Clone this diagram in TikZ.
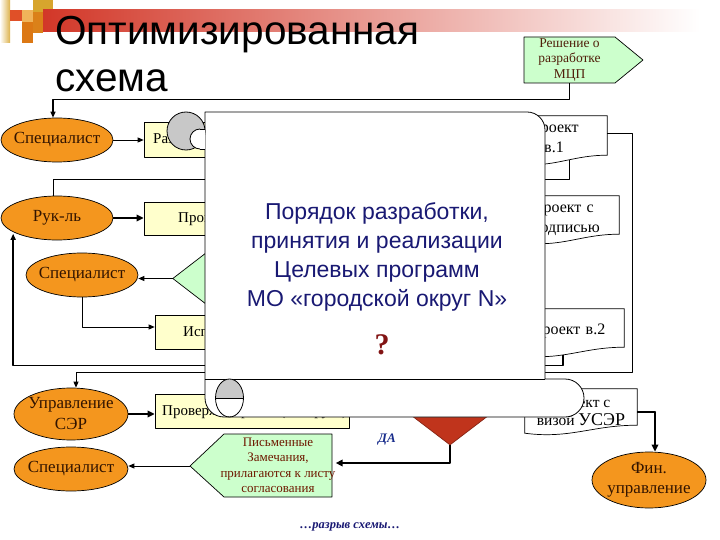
\documentclass[tikz,border=0pt]{standalone}
\usepackage{fontspec}
\setmainfont{Liberation Serif}
\newfontfamily\arialf{Liberation Sans}
\usetikzlibrary{shapes.geometric,arrows.meta}
\pgfdeclarelayer{paper}
\pgfdeclarelayer{docs}
\pgfsetlayers{paper,docs,main}
\definecolor{orng}{RGB}{244,150,30}
\definecolor{yel}{RGB}{255,255,204}
\definecolor{grn}{RGB}{204,255,204}
\definecolor{redd}{RGB}{192,52,28}
\definecolor{ellt}{RGB}{50,20,0}
\definecolor{notet}{RGB}{110,25,0}
\definecolor{dect}{RGB}{80,30,10}
\definecolor{navy}{RGB}{25,25,115}
\definecolor{qcol}{RGB}{130,20,20}
\definecolor{dablue}{RGB}{25,45,140}
\definecolor{barred}{RGB}{210,55,40}
\definecolor{curl}{RGB}{200,200,200}
\definecolor{gold}{RGB}{215,165,45}
\definecolor{lorng}{RGB}{240,180,90}
\definecolor{dorng}{RGB}{220,120,20}
\definecolor{rorng}{RGB}{224,80,40}
\newcommand\docwave[2]{%
  \path[fill=white,draw=black,line width=0.7pt] (#1.north west) -- (#1.north east) -- (#1.south east)
    .. controls ([xshift=-#2pt]#1.south east) and ([xshift=#2pt,yshift=-14pt]#1.south west) .. ([yshift=-8pt]#1.south west) -- cycle;}
\begin{document}
\begin{tikzpicture}[x=1pt,y=-1pt,line join=round,
  ell/.style={ellipse,draw=black,line width=0.7pt,fill=orng,inner sep=0pt},
  elltxt/.style={inner sep=0pt,text=ellt,align=center,font=\fontsize{17}{20}\selectfont},
  ybox/.style={rectangle,draw=black,line width=0.7pt,fill=yel,inner sep=0pt},
  btxt/.style={font=\fontsize{15}{18}\selectfont,inner sep=0pt,anchor=west},
  doctxt/.style={inner sep=0pt,align=left,font=\fontsize{16}{20}\selectfont},
  frame/.style={inner sep=0pt,draw=none},
  arr/.style={-{Triangle[length=6pt,width=5pt]},line width=0.8pt},
  tarr/.style={-{Triangle[length=7pt,width=6.5pt]},line width=1.8pt},
  ln/.style={line width=0.8pt}]
\begin{pgfonlayer}{paper}
\fill[white] (0,0) rectangle (720,540);
\end{pgfonlayer}
\useasboundingbox (0,0) rectangle (720,540);

% decoration
\shade[left color=white, right color=gold!85!white] (0,0) rectangle (10,43);
\fill[rorng] (10,10) rectangle (22,21);
\fill[lorng] (22,10) rectangle (33,22);
\fill[gold] (33,0) rectangle (53,12);
\fill[dorng!80!gold] (33,12) rectangle (43,33);
\fill[dorng] (22,22) rectangle (33,43);
\shade[left color=barred, middle color=barred!35!white, right color=white] (43,10) rectangle (700,32);

% title
\node[anchor=base west,inner sep=0pt,font=\arialf\fontsize{40.5}{47}\selectfont] (title1) at (55,45) {Оптимизированная};
\node[anchor=base west,inner sep=0pt,font=\arialf\fontsize{40.5}{47}\selectfont] (title2) at (55,92) {схема};

% decision pentagon
\path[draw=black,fill=grn,line width=0.7pt] (524,37) -- (615,37) -- (643,60) -- (615,83) -- (524,83) -- cycle;
\node[frame,minimum width=91pt,minimum height=46pt,align=center,text=dect,font=\fontsize{13.5}{15.5}\selectfont] (dec) at (569.5,60) {Решение о\\разработке\\МЦП};

% ellipses
\node[ell,minimum width=112pt,minimum height=44pt] (sp1) at (57,140) {};
\node[elltxt] (sp1t) at (sp1) {Специалист};
\node[ell,minimum width=112pt,minimum height=44pt] (ruk) at (57,218) {};
\node[elltxt] (rukt) at (ruk) {Рук-ль};
\node[ell,minimum width=112pt,minimum height=44pt] (sp2) at (82,275) {};
\node[elltxt] (sp2t) at (sp2) {Специалист};
\node[ell,minimum width=114pt,minimum height=52pt] (use) at (71,414) {};
\node[elltxt,font=\fontsize{17}{21}\selectfont] (uset) at (use) {Управление\\СЭР};
\node[ell,minimum width=114pt,minimum height=44pt] (sp3) at (71,469) {};
\node[elltxt] (sp3t) at (sp3) {Специалист};
\node[ell,minimum width=114pt,minimum height=56pt] (fin) at (649,480) {};
\node[elltxt,font=\fontsize{17}{20}\selectfont] (fint) at (fin) {Фин.\\управление};

% yellow boxes
\node[ybox,minimum width=156pt,minimum height=35pt] (boxRa) at (222,139.5) {};
\node[btxt] (tRa) at (153,140) {Разрабатывает};
\node[ybox,minimum width=156pt,minimum height=33pt] (boxPr) at (222,218.5) {};
\node[btxt] (tPr) at (178,219) {Проверяет};
\node[ybox,minimum width=145pt,minimum height=34pt] (boxIsp) at (227.5,332) {};
\node[btxt] (tIsp) at (183,333) {Исправляет};
\node[ybox,minimum width=194pt,minimum height=34pt] (boxCheck) at (252,411) {};
\node[btxt] (tCheck) at (162,412) {Проверяет проект (визирует)};

% green triangle
\node[frame,minimum width=113pt,minimum height=53pt] (gtri) at (263.5,278.5) {};
\path[draw=black,fill=grn,line width=0.7pt] (gtri.north east) -- ([xshift=-56pt]gtri.north) -- ([xshift=-34pt]gtri.west) -- ([xshift=-56pt]gtri.south) -- (gtri.south east) -- cycle;
\coordinate (gtip) at ([xshift=-34pt]gtri.west);

% green note
\path[draw=black,fill=grn,line width=0.7pt] (332,434) -- (224,434) -- (190,466) -- (224,497) -- (332,497) -- cycle;
\node[frame,minimum width=108pt,minimum height=63pt,align=center,text=notet,font=\fontsize{13}{15.5}\selectfont] (note) at (278,465.5) {Письменные\\Замечания,\\прилагаются к листу\\согласования};
\coordinate (notetip) at (190,466);

% red diamond
\node[diamond,fill=redd,draw=redd!70!black,line width=0.7pt,inner sep=0pt,minimum width=118pt,minimum height=90pt] (dia) at (450,400) {};

% documents
\node[frame,minimum width=92pt,minimum height=39pt] (d1) at (561,135.5) {};
\node[inner sep=0pt,align=center,font=\fontsize{16}{20}\selectfont] (d1t) at (554,137) {Проект\\в.1};
\node[frame,minimum width=97pt,minimum height=38pt] (d2) at (570.5,215) {};
\node[doctxt,text width=74pt] (d2t) at (569,218.5) {Проект с\\подписью};
\node[frame,minimum width=104pt,minimum height=38pt] (d3) at (572,328) {};
\node[doctxt,text width=80pt] (d3t) at (571,331) {Проект в.2};
\node[frame,minimum width=112pt,minimum height=36pt] (d4) at (581,407) {};
\node[inner sep=0pt,align=center,font=\fontsize{15.5}{18}\selectfont] (d4t) at (581,412) {Проект с\\визой {\fontsize{18}{18}\selectfont УСЭР}};
\begin{pgfonlayer}{docs}
\docwave{d1}{37}
\docwave{d2}{39}
\docwave{d3}{42}
\docwave{d4}{45}
\end{pgfonlayer}

% connectors
\draw[arr,line width=1.1pt] (dec.south) -- ++(0,16) -| ([xshift=-4pt]sp1.north);
\draw[arr] (sp1.east) -- (sp1.east -| boxRa.west);
\draw[tarr] (ruk.east) -- (ruk.east -| boxPr.west);
\draw[arr] (gtip) -- (gtip -| sp2.east);
\draw[arr] (sp2.south) |- ([yshift=5pt]boxIsp.west);
\draw[ln] ([xshift=8pt,yshift=-4.5pt]d1.south) -- ++(0,19.5) -| ([xshift=-4pt]ruk.north);
\draw[arr] ([yshift=2.5pt]d1.east) -- ++(25,0) -- ++(0,239) -| ([xshift=5pt]use.north);
\draw[arr,line width=1.4pt] ([xshift=-9pt,yshift=-8pt]d3.south) -- ++(0,10.2) -| ([xshift=-4pt]ruk.south west);
\draw[tarr] (use.east) -- (use.east -| boxCheck.west);
\draw[tarr] (dia.south) |- ([yshift=2.5pt]note.east);
\draw[arr] (notetip) -- (notetip -| sp3.east);
\draw[tarr] ([yshift=-5pt]d4.east) -- ++(18,0) -| ([xshift=6pt]fin.north);

% labels
\node[inner sep=0pt,font=\bfseries\itshape\fontsize{13}{15}\selectfont,text=dablue] (da) at (387,440) {ДА};
\node[inner sep=0pt,font=\bfseries\itshape\fontsize{12.5}{15}\selectfont,text=navy] (gap) at (350,527) {…разрыв схемы…};

% scroll
\path[fill=white,draw=black,line width=0.8pt] (205,398) -- (205,112) -- (527,112) .. controls (537,112) and (545,120) .. (545,130) -- (545,379) -- (565,379) .. controls (575.5,379) and (584,387.5) .. (584,398) .. controls (584,408.5) and (575.5,417) .. (565,417) -- (224,417) .. controls (213.5,417) and (205,408.5) .. (205,398) -- cycle;
\draw[line width=0.8pt] (205,379) -- (545,379);
\draw[fill=curl,line width=0.8pt] (186,131) circle[radius=19];
\begin{scope}
\clip (188,125) rectangle (200,153);
\draw[fill=white,line width=0.8pt] (200,139) circle[radius=10];
\end{scope}
\fill[white] (200,129) rectangle (204.6,149);
\draw[line width=0.8pt] (200,129) -- (205,129) (200,149) -- (205,149);
\begin{scope}
\clip (214,379) rectangle (245,398);
\fill[curl] (229.5,398) ellipse[x radius=14,y radius=19];
\end{scope}
\draw[line width=0.8pt] (229.5,398) ellipse[x radius=14,y radius=19];
\draw[line width=0.8pt] (215.5,398) -- (243.5,398);

\node[align=center,inner sep=0pt,text=navy,font=\arialf\fontsize{23}{29}\selectfont] (stxt) at (377,257) {Порядок разработки,\\принятия и реализации\\Целевых программ\\МО «городской округ N»};
\node[inner sep=0pt,text=qcol,font=\bfseries\fontsize{30}{30}\selectfont] (q) at (382,345) {?};
\end{tikzpicture}
\end{document}
